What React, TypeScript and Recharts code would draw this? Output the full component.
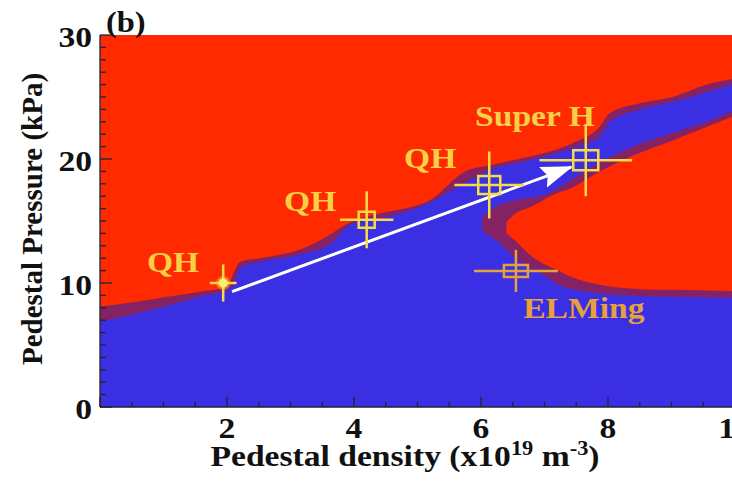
import React from 'react';
import {
  ComposedChart,
  Area,
  Line,
  Scatter,
  XAxis,
  YAxis,
  CartesianGrid,
  ErrorBar,
  Customized,
} from 'recharts';

// ---- Stability boundary (upper edge of stable region) ----
const boundaryX = [0, 0.47, 0.94, 1.57, 2.0, 2.12, 2.2, 2.52, 3.15, 3.62, 3.94, 4.41, 5.2, 5.75, 6.14, 6.77, 7.45, 7.87, 8.03, 8.5, 9.02, 9.56, 10];
const blueTop = [6.9, 7.4, 8.0, 8.9, 9.4, 10.0, 11.2, 11.7, 12.3, 13.1, 14.7, 15.2, 16.5, 18.1, 19.1, 19.9, 20.9, 21.8, 23.0, 24.0, 24.6, 25.4, 26.1];
const purpleTop = [8.1, 8.4, 8.8, 9.3, 9.7, 11.0, 11.7, 12.0, 12.7, 13.9, 14.9, 15.6, 16.7, 19.0, 19.5, 20.2, 21.3, 22.6, 23.7, 24.5, 25.0, 26.0, 26.5];

// ---- ELMing (unstable) pocket ----
const elmEdgeX = [6.02, 6.25, 6.57, 7.0, 7.2, 7.45, 7.87, 8.5, 9.02, 9.56, 10];
const elmEdgeLow = [14.2, 13.4, 11.9, 10.6, 9.9, 9.5, 9.15, 8.95, 8.9, 8.85, 8.8];
const elmEdgeHigh = [15.3, 16.2, 16.7, 17.1, 17.6, 18.4, 19.7, 21.2, 22.1, 23.0, 23.95];

const elmRedX = [6.4, 6.54, 6.72, 6.88, 7.17, 7.35, 7.87, 8.5, 9.02, 9.56, 10];
const elmRedLow = [14.0, 13.4, 12.5, 11.85, 11.1, 10.65, 9.85, 9.5, 9.45, 9.4, 9.35];
const elmRedHigh = [14.9, 15.6, 16.0, 16.4, 17.2, 17.5, 19.0, 20.5, 21.5, 22.6, 23.5];

// ---- Measured discharges ----
const shotNames = ['QH1', 'QH2', 'QH3', 'SuperH', 'ELMing'];
const shotDensity = [1.94, 4.2, 6.13, 7.65, 6.55];
const shotPressure = [10.0, 15.1, 17.9, 19.9, 10.97];
const shotDensityErr = [0.21, 0.42, 0.55, 0.73, 0.66];
const shotPressureErr = [1.5, 2.3, 2.7, 2.9, 1.7];

// ---- Trajectory arrow ----
const arrowX = [2.08, 7.42];
const arrowY = [9.3, 19.35];

// ---- Annotations ----
const annotationText = ['QH', 'QH', 'QH', 'Super H', 'ELMing'];
const annotationX = [1.15, 3.31, 5.2, 6.85, 7.62];
const annotationY = [10.9, 15.8, 19.3, 22.7, 7.2];

// ---- Ticks ----
const xTicks = [0, 0.5, 1, 1.5, 2, 2.5, 3, 3.5, 4, 4.5, 5, 5.5, 6, 6.5, 7, 7.5, 8, 8.5, 9, 9.5, 10];
const xMajor = [0, 2, 4, 6, 8, 10];
const xTickLabels = [2, 4, 6, 8, 10];
const yTicks = [0, 1, 2, 3, 4, 5, 6, 7, 8, 9, 10, 11, 12, 13, 14, 15, 16, 17, 18, 19, 20, 21, 22, 23, 24, 25, 26, 27, 28, 29, 30];
const yMajor = [0, 10, 20, 30];
const yTickLabels = [0, 10, 20, 30];

// ---- styles ----
const RED = '#ff2a00';
const BLUE = '#3b2fe3';
const PURPLE = '#852263';
const YELLOW = '#f3dc48';
const LABEL_YELLOW = '#f7d046';
const ORANGE = '#e6a13a';
const TICK = '#222233';
const SERIF = "'Liberation Serif', 'Times New Roman', serif";
const STRETCH = 1.12;

const markerStyle: Record<string, { dot?: boolean; w: number; h: number; color: string }> = {
  QH1: { dot: true, w: 0, h: 0, color: YELLOW },
  QH2: { w: 16, h: 16, color: YELLOW },
  QH3: { w: 22, h: 18, color: YELLOW },
  SuperH: { w: 25, h: 20, color: YELLOW },
  ELMing: { w: 24, h: 12, color: ORANGE },
};
const annotationColor: Record<string, string> = {
  QH: LABEL_YELLOW,
  'Super H': LABEL_YELLOW,
  ELMing: ORANGE,
};

// ---- derived tables ----
const boundaryRows = boundaryX.map((x, i) => ({ x, blue: blueTop[i], purple: purpleTop[i] }));
const elmEdgeRows = elmEdgeX.map((x, i) => ({ x, r: [elmEdgeLow[i], elmEdgeHigh[i]] }));
const elmRedRows = elmRedX.map((x, i) => ({ x, r: [elmRedLow[i], elmRedHigh[i]] }));
const shotRows = shotNames.map((name, i) => ({
  name,
  x: shotDensity[i],
  y: shotPressure[i],
  ex: shotDensityErr[i],
  ey: shotPressureErr[i],
}));
const yellowShots = shotRows.filter((r) => r.name !== 'ELMing');
const orangeShots = shotRows.filter((r) => r.name === 'ELMing');
const arrowRows = arrowX.map((x, i) => ({ x, y: arrowY[i] }));
const annotationRows = annotationText.map((text, i) => ({ text, x: annotationX[i], y: annotationY[i] }));

const textStyle: React.CSSProperties = {
  fontFamily: SERIF,
  fontWeight: 'bold',
  fontSize: 30,
};

const BottomTick = (props: any) => {
  const { x, y, payload } = props;
  const v = payload.value;
  const len = xMajor.includes(v) ? 10 : 5;
  return (
    <g>
      <line x1={x} x2={x} y1={y} y2={y - len} stroke={TICK} strokeWidth={1.3} />
      {xTickLabels.includes(v) && (
        <text
          transform={`translate(${x},${y + 31}) scale(${STRETCH},1)`}
          textAnchor="middle"
          fill="#111"
          style={textStyle}
        >
          {v}
        </text>
      )}
    </g>
  );
};

const TopTick = (props: any) => {
  const { x, y, payload } = props;
  const v = payload.value;
  const len = xMajor.includes(v) ? 10 : 5;
  return <line x1={x} x2={x} y1={y} y2={y + len} stroke={TICK} strokeWidth={1.3} />;
};

const LeftTick = (props: any) => {
  const { x, y, payload } = props;
  const v = payload.value;
  const len = yMajor.includes(v) ? 12 : 6;
  return (
    <g>
      <line x1={x} x2={x + len} y1={y} y2={y} stroke={TICK} strokeWidth={1.3} />
      {yTickLabels.includes(v) && (
        <text
          transform={`translate(${x - 8},${y + 12}) scale(${STRETCH},1)`}
          textAnchor="end"
          fill="#111"
          style={textStyle}
        >
          {v}
        </text>
      )}
    </g>
  );
};

const ShotShape = (props: any) => {
  const { cx, cy, payload } = props;
  if (cx == null || cy == null) return null;
  const s = markerStyle[payload.name];
  if (s.dot) {
    return (
      <g>
        <circle cx={cx} cy={cy} r={7} fill={s.color} opacity={0.45} />
        <circle cx={cx} cy={cy} r={4.5} fill="#fbf070" />
      </g>
    );
  }
  return (
    <rect
      x={cx - s.w / 2}
      y={cy - s.h / 2}
      width={s.w}
      height={s.h}
      fill="none"
      stroke={s.color}
      strokeWidth={2.5}
    />
  );
};

const AnnotationShape = (props: any) => {
  const { cx, cy, payload } = props;
  if (cx == null || cy == null) return null;
  return (
    <text
      transform={`translate(${cx},${cy}) scale(${STRETCH},1)`}
      textAnchor="middle"
      fill={annotationColor[payload.text]}
      style={textStyle}
    >
      {payload.text}
    </text>
  );
};

const Decorations = () => (
  <g>
    <defs>
      <marker
        id="arrowHead"
        viewBox="0 0 32 22"
        refX={30}
        refY={11}
        markerWidth={32}
        markerHeight={22}
        markerUnits="userSpaceOnUse"
        orient="auto"
      >
        <path d="M0,0 L32,11 L0,22 L5,11 z" fill="#ffffff" />
      </marker>
    </defs>
    <text
      transform={`translate(98,24) scale(${STRETCH},1)`}
      fill="#111"
      style={{ ...textStyle, fontSize: 29 }}
    >
      (b)
    </text>
    <text
      transform="translate(34,211) rotate(-90)"
      textAnchor="middle"
      fill="#111"
      style={{ ...textStyle, fontSize: 29 }}
    >
      Pedestal Pressure (kPa)
    </text>
    <text
      transform={`translate(397,458) scale(${STRETCH},1)`}
      textAnchor="middle"
      fill="#111"
      style={{ ...textStyle, fontSize: 30 }}
    >
      Pedestal density (x10
      <tspan dy={-11} fontSize={20}>19</tspan>
      <tspan dy={11}> m</tspan>
      <tspan dy={-11} fontSize={20}>-3</tspan>
      <tspan dy={11}>)</tspan>
    </text>
  </g>
);

export default function App() {
  return (
    <div
      style={{
        position: 'absolute',
        left: 0,
        top: 0,
        width: 732,
        height: 493,
        overflow: 'hidden',
        background: '#ffffff',
      }}
    >
      <div style={{ position: 'absolute', left: 8, top: 8 }}>
        <ComposedChart
          width={740}
          height={477}
          margin={{ top: 27, right: 13, bottom: 0, left: 0 }}
        >
          <CartesianGrid fill={RED} stroke="none" horizontal={false} vertical={false} />
          <Area
            data={boundaryRows}
            dataKey="purple"
            type="monotone"
            fill={PURPLE}
            fillOpacity={1}
            stroke="none"
            dot={false}
            activeDot={false}
            isAnimationActive={false}
          />
          <Area
            data={boundaryRows}
            dataKey="blue"
            type="monotone"
            fill={BLUE}
            fillOpacity={1}
            stroke="none"
            dot={false}
            activeDot={false}
            isAnimationActive={false}
          />
          <Area
            data={elmEdgeRows}
            dataKey="r"
            type="monotone"
            fill={PURPLE}
            fillOpacity={1}
            stroke="none"
            dot={false}
            activeDot={false}
            isAnimationActive={false}
          />
          <Area
            data={elmRedRows}
            dataKey="r"
            type="monotone"
            fill={RED}
            fillOpacity={1}
            stroke="none"
            dot={false}
            activeDot={false}
            isAnimationActive={false}
          />
          <Line
            data={arrowRows}
            dataKey="y"
            type="linear"
            stroke="#ffffff"
            strokeWidth={3}
            dot={false}
            activeDot={false}
            markerEnd="url(#arrowHead)"
            isAnimationActive={false}
          />
          <Scatter data={yellowShots} dataKey="y" shape={ShotShape} isAnimationActive={false}>
            <ErrorBar dataKey="ex" direction="x" width={0} stroke={YELLOW} strokeWidth={2.5} />
            <ErrorBar dataKey="ey" direction="y" width={0} stroke={YELLOW} strokeWidth={2.5} />
          </Scatter>
          <Scatter data={orangeShots} dataKey="y" shape={ShotShape} isAnimationActive={false}>
            <ErrorBar dataKey="ex" direction="x" width={0} stroke={ORANGE} strokeWidth={2.5} />
            <ErrorBar dataKey="ey" direction="y" width={0} stroke={ORANGE} strokeWidth={2.5} />
          </Scatter>
          <Scatter data={annotationRows} dataKey="y" shape={AnnotationShape} isAnimationActive={false} />
          <XAxis
            type="number"
            dataKey="x"
            domain={[0, 10]}
            allowDataOverflow
            ticks={xTicks}
            interval={0}
            tickSize={0}
            tickMargin={0}
            tickLine={false}
            axisLine={{ stroke: TICK, strokeWidth: 1.3 }}
            tick={BottomTick}
            height={78}
          />
          <XAxis
            xAxisId="top"
            orientation="top"
            type="number"
            dataKey="x"
            domain={[0, 10]}
            allowDataOverflow
            ticks={xTicks}
            interval={0}
            tickSize={0}
            tickMargin={0}
            tickLine={false}
            axisLine={{ stroke: TICK, strokeWidth: 1.3 }}
            tick={TopTick}
            height={0}
          />
          <YAxis
            type="number"
            domain={[0, 30]}
            allowDataOverflow
            ticks={yTicks}
            interval={0}
            tickSize={0}
            tickMargin={0}
            tickLine={false}
            axisLine={{ stroke: TICK, strokeWidth: 1.3 }}
            tick={LeftTick}
            width={92}
          />
          <Customized component={Decorations} />
        </ComposedChart>
      </div>
    </div>
  );
}
